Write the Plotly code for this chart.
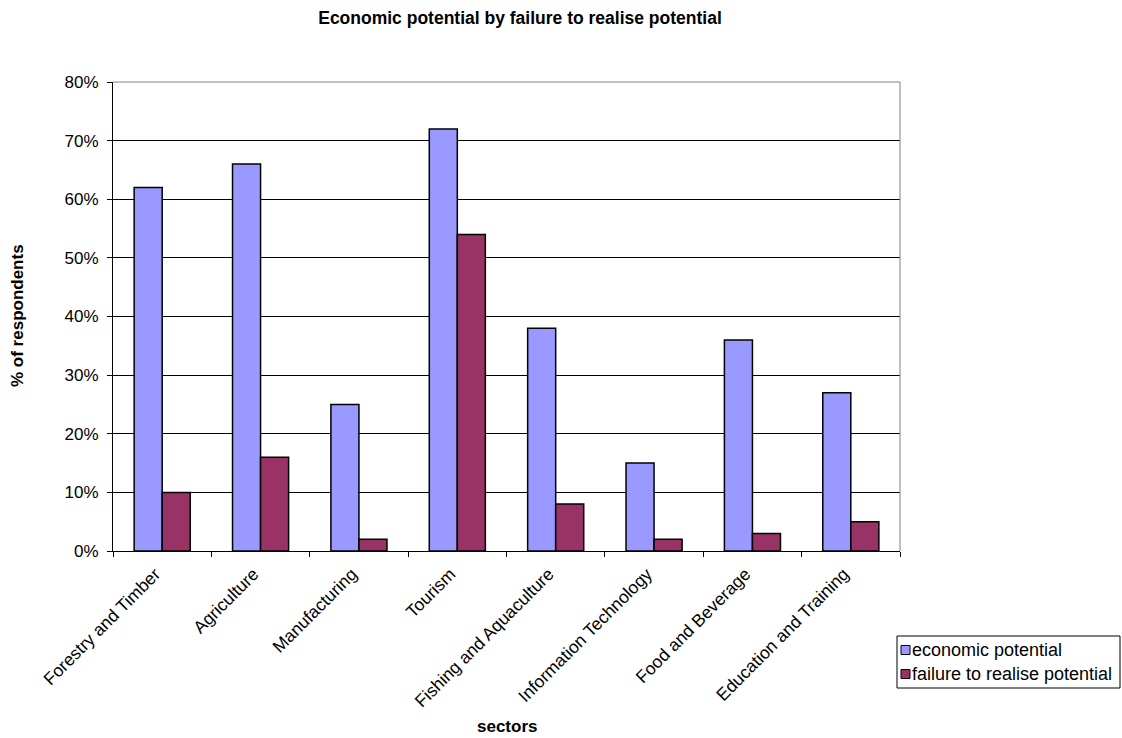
import plotly.graph_objects as go

sectors = [
    "Forestry and Timber",
    "Agriculture",
    "Manufacturing",
    "Tourism",
    "Fishing and Aquaculture",
    "Information Technology",
    "Food and Beverage",
    "Education and Training",
]
economic_potential = [0.62, 0.66, 0.25, 0.72, 0.38, 0.15, 0.36, 0.27]
failure_to_realise = [0.10, 0.16, 0.02, 0.54, 0.08, 0.02, 0.03, 0.05]

series_names = ["economic potential", "failure to realise potential"]
series_colors = ["#9999FF", "#993366"]

FONT = "Arial, 'Liberation Sans', sans-serif"

# plot area in pixels
W, H = 1122, 738
L, R, T, B = 113, 900, 82, 551
PW, PH = R - L, B - T


def px(x):
    return (x - L) / PW


def py(y):
    return (B - y) / PH


fig = go.Figure()
for name, vals, col in zip(series_names, [economic_potential, failure_to_realise], series_colors):
    fig.add_trace(go.Bar(
        name=name,
        x=sectors,
        y=vals,
        showlegend=False,
        marker=dict(color=col, line=dict(color="#000000", width=1.5)),
    ))

# frame (top / right) and the boxed legend
shapes = [
    dict(type="line", xref="paper", yref="paper", x0=0, x1=1, y0=1, y1=1,
         line=dict(color="#808080", width=1)),
    dict(type="line", xref="paper", yref="paper", x0=1, x1=1, y0=0, y1=1,
         line=dict(color="#808080", width=1)),
    dict(type="rect", xref="paper", yref="paper",
         x0=px(897), x1=px(1120), y0=py(688), y1=py(636),
         line=dict(color="#000000", width=1), fillcolor="white", layer="above"),
]
annotations = []
for i, (name, col) in enumerate(zip(series_names, series_colors)):
    cy = 650 + 24 * i
    shapes.append(dict(type="rect", xref="paper", yref="paper",
                       x0=px(901), x1=px(910), y0=py(cy + 4.5), y1=py(cy - 4.5),
                       line=dict(color="#000000", width=1), fillcolor=col, layer="above"))
    annotations.append(dict(text=name, xref="paper", yref="paper",
                            x=px(910), y=py(cy), xanchor="left", yanchor="middle",
                            showarrow=False, font=dict(family=FONT, size=18)))

annotations.append(dict(text="<b>sectors</b>", xref="paper", yref="paper",
                        x=px(507), y=py(738), xanchor="center", yanchor="bottom",
                        showarrow=False, font=dict(family=FONT, size=17)))
annotations.append(dict(text="<b>% of respondents</b>", xref="paper", yref="paper",
                        x=px(17), y=py(316), xanchor="center", yanchor="middle",
                        textangle=-90, showarrow=False, font=dict(family=FONT, size=17)))

fig.update_layout(
    width=W,
    height=H,
    margin=dict(l=L, r=W - R, t=T, b=H - B),
    paper_bgcolor="white",
    plot_bgcolor="white",
    font=dict(family=FONT, size=17, color="#000000"),
    barmode="group",
    bargap=0.43,
    bargroupgap=0,
    showlegend=False,
    title=dict(
        text="<b>Economic potential by failure to realise potential</b>",
        x=520 / W,
        xref="container",
        xanchor="center",
        y=1 - 18 / H,
        yanchor="middle",
        font=dict(family=FONT, size=17.5),
    ),
    shapes=shapes,
    annotations=annotations,
)

fig.update_xaxes(
    type="category",
    showline=True,
    linecolor="#000000",
    linewidth=1,
    ticks="outside",
    tickson="boundaries",
    ticklen=5,
    tickcolor="#000000",
    tickangle=-45,
    ticklabelstandoff=5,
    ticklabelshift=-7,
    tickfont=dict(family=FONT, size=17.5),
    showgrid=False,
)

fig.update_yaxes(
    range=[0, 0.8],
    dtick=0.1,
    tickformat=".0%",
    showline=True,
    linecolor="#000000",
    linewidth=1,
    ticks="outside",
    ticklen=5,
    tickcolor="#000000",
    ticklabelstandoff=5,
    tickfont=dict(family=FONT, size=17),
    showgrid=True,
    gridcolor="#000000",
    gridwidth=1,
    zeroline=False,
)

fig.write_html("out.html")
